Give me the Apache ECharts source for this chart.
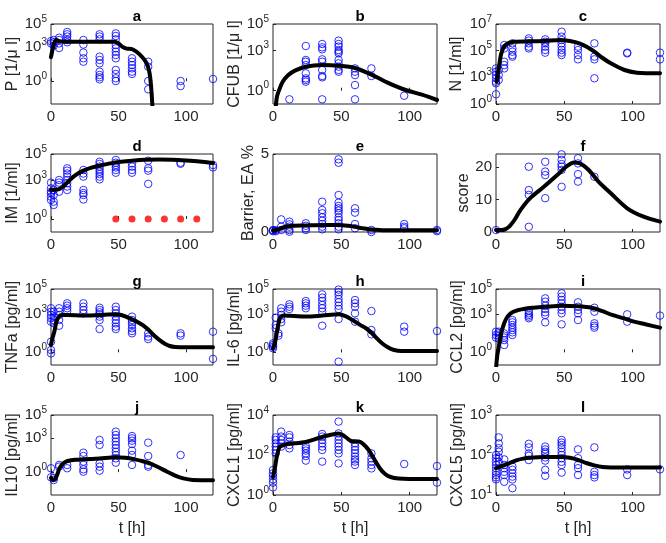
<!DOCTYPE html>
<html>
<head>
<meta charset="utf-8">
<script src="https://cdn.jsdelivr.net/npm/echarts@6/dist/echarts.min.js"></script>
<style>
  html, body { margin: 0; padding: 0; background: #fff; }
  #chart { width: 666px; height: 543px; }
</style>
</head>
<body>
<div id="chart"></div>
<script>
// log panels hold log10 readings, the axis labels show them as 10^n
// observations: [time, [values at that time]]
var aObs = [[0, [3.5, 3.3]], [2, [3.6, 3.4, 3.1]], [6, [3.8, 3.6, 3.3, 2.9]], [12, [4.3, 4.1, 3.9, 3.6, 3.4]], [24, [3.6, 3.2, 2.5, 2.0, 1.7]], [36, [4.1, 3.9, 3.66, 2.14, 1.85, 1.56, 0.83, 0.54, 0.34, 0.16]], [48, [4.18, 3.95, 3.66, 3.16, 2.87, 2.58, 2.29, 2.0, 0.98, 0.63, 0.25, 0.01]], [60, [2.0, 1.7, 1.41, 1.12, 0.83, 0.63]], [72, [1.7, 1.26, 0.01, -0.71]], [96, [0.01, -0.43]], [120, [0.19]]]
var aFitT = [0, 1, 2, 3, 4, 6, 10, 20, 30, 40, 47, 50, 53, 56, 60, 63, 66, 69, 71, 72.5, 73.5, 74.5, 75.5]
var aFitV = [2.1, 2.7, 3.2, 3.5, 3.6, 3.5, 3.45, 3.45, 3.45, 3.45, 3.45, 3.3, 3.0, 2.85, 2.8, 2.6, 2.3, 1.9, 1.5, 1.0, 0.3, -1, -3]

var bObs = [[12, [-0.65]], [24, [3.35, 2.3, 2.17, 1.92, 1.3, 0.92, 0.8, 0.67]], [36, [3.5, 3.25, 3.1, 2.35, 2.17, 1.55, 1.1, 1.0, -0.65]], [48, [3.75, 3.5, 3.3, 3.05, 2.92, 2.8, 2.3, 2.05, 1.8, 1.55, 1.42]], [60, [1.67, 1.42, 1.17, 0.42, -0.65]], [72, [1.67, 1.1]], [96, [-0.38]]]
var bFitT = [2, 3, 4.5, 7, 11, 16, 24, 36, 48, 60, 72, 85, 97, 109, 120]
var bFitV = [-1.2, -0.4, 0.05, 0.65, 1.15, 1.5, 1.8, 1.92, 1.87, 1.7, 1.2, 0.55, 0.05, -0.3, -0.7]

var cObs = [[0, [3.67, 3.42, 3.17, 2.93, 2.67, 2.55, 1.73]], [2, [3.55, 3.17, 2.8]], [6, [5.42, 5.17, 4.17, 3.92, 3.67]], [12, [5.55, 5.17, 4.92, 4.67, 4.55]], [24, [5.92, 5.75, 5.55, 5.3, 5.17]], [36, [5.85, 5.67, 5.55, 5.3, 5.05, 4.85]], [48, [6.42, 6.05, 5.8, 5.55, 5.3, 5.05, 4.85, 4.67]], [60, [5.3, 5.05, 4.67, 4.35]], [72, [5.55, 4.55, 4.35, 2.93]], [96, [4.85, 4.8]], [120, [4.85, 4.35]]]
var cFitT = [0.5, 2.2, 3.9, 7, 13, 24, 35, 47, 54, 61, 67, 72, 78, 84, 94, 103, 120]
var cFitV = [2.67, 3.8, 4.8, 5.42, 5.67, 5.7, 5.72, 5.8, 5.72, 5.55, 5.25, 4.92, 4.45, 4.05, 3.55, 3.35, 3.3]

var dObs = [[0, [2.8, 2.36, 2.1, 1.97, 1.72, 1.46]], [2, [2.23, 1.85, 1.33, 1.08]], [6, [3.0, 2.8, 2.6, 2.1]], [12, [3.9, 3.72, 3.5, 3.26, 3.0, 2.75, 2.5, 2.23]], [24, [3.77, 3.5, 3.26, 2.23, 2.0, 1.85, 1.5]], [36, [4.4, 4.23, 4.03, 3.82, 3.64, 3.46, 3.26, 3.05]], [48, [4.54, 4.33, 4.15, 3.97, 3.77, 3.56]], [60, [4.28, 4.03, 3.77, 3.56]], [72, [4.48, 3.9, 3.72, 2.7]], [96, [4.33, 4.25]], [120, [4.15, 3.97]]]
var dFitT = [0, 3, 6, 9, 12, 16, 20, 24, 30, 36, 44, 52, 60, 70, 80, 90, 100, 110, 120]
var dFitV = [2.25, 2.25, 2.3, 2.5, 2.8, 3.2, 3.5, 3.72, 3.95, 4.1, 4.28, 4.4, 4.48, 4.55, 4.58, 4.56, 4.5, 4.42, 4.3]
var dMarkT = [48, 60, 72, 84, 96, 108]
var dMarkV = [0, 0, 0, 0, 0, 0]

var eObs = [[0, [0.12, 0.1, 0.05]], [2, [0.12, 0.05]], [6, [0.81, 0.34, 0.13]], [12, [0.66, 0.49, 0.34, 0.13, 0.02]], [24, [0.56, 0.4, 0.24, 0.13]], [36, [1.94, 1.41, 1.2, 0.94, 0.72, 0.51, 0.34, 0.17]], [48, [4.66, 4.44, 2.37, 1.88, 1.67, 1.52, 1.37, 1.2, 0.94, 0.77, 0.56, 0.34, 0.17]], [60, [1.52, 1.24, 0.51, 0.24]], [72, [0.13, 0.0]], [96, [0.51, 0.34, 0.24]], [120, [0.13, 0.05]]]
var eFitT = [0, 3, 6, 10, 15, 24, 36, 48, 55, 60, 65, 70, 75, 80, 100, 120]
var eFitV = [0.1, 0.15, 0.25, 0.35, 0.4, 0.42, 0.45, 0.45, 0.4, 0.33, 0.25, 0.18, 0.14, 0.12, 0.12, 0.12]

var fObs = [[0, [0.6]], [24, [20.1, 12.9, 11.4, 1.6]], [36, [21.6, 18.6, 17.5, 10.4]], [48, [23.9, 22.2, 20.9, 20.1, 19.1, 13.9]], [60, [22.7, 21.1, 17.8, 15.5]], [72, [17]]]
var fFitT = [0, 4, 7, 10, 14, 18, 25, 35, 45, 52, 57, 62, 68, 75, 84, 96, 108, 120]
var fFitV = [0.6, 0.6, 0.9, 1.8, 4, 6.8, 10.4, 13.9, 17.6, 20.3, 21.4, 21, 19, 15.5, 11.9, 7.3, 4.7, 3.2]

var gObs = [[0, [3.48, 3.21, 2.95, 2.69, 2.42, 0.84, 0.18, -0.08]], [2, [3.21, 2.82, 2.55, 2.3]], [6, [3.48, 3.21, 2.95, 2.55, 2.1]], [12, [3.87, 3.68, 3.48, 3.26]], [24, [3.87, 3.6, 3.34, 3.08]], [36, [3.52, 3.34, 3.16, 3.0, 2.82, 2.55, 1.84]], [48, [3.6, 3.34, 3.08, 2.82, 2.55, 2.29, 2.03, 1.84]], [60, [2.82, 2.55, 2.37, 2.16, 1.9, 1.68, 1.5]], [72, [1.5, 1.24, 1.05]], [96, [1.5, 1.32]], [120, [1.63, -0.52]]]
var gFitT = [0, 1, 2.5, 4, 6, 8, 12, 24, 36, 48, 52, 56, 60, 64, 68, 72, 76, 80, 84, 88, 92, 100, 120]
var gFitV = [0.6, 1.1, 1.65, 2.4, 2.85, 2.95, 2.95, 2.9, 2.95, 3.0, 2.95, 2.8, 2.6, 2.4, 2.15, 1.8, 1.37, 1.0, 0.7, 0.5, 0.42, 0.4, 0.4]

var hObs = [[0, [0.71, 0.58, 0.45, 0.32]], [2, [2.74, 2.16, 1.9]], [4, [1.5, 1.32]], [6, [3.48, 3.21, 2.95, 2.63, 2.37]], [12, [3.79, 3.6, 3.42]], [24, [4.05, 3.87, 3.68, 3.48]], [36, [4.58, 4.32, 4.05, 3.74, 3.48, 3.21, 2.1]], [48, [4.95, 4.75, 4.53, 4.21, 3.95, 3.68, 3.42, 2.63, -0.74]], [60, [4.13, 3.87, 3.6, 3.08, 2.42]], [72, [3.26, 1.76, 1.42]], [96, [2.03, 1.63]], [120, [1.68]]]
var hFitT = [0, 1, 2, 3, 4.5, 6, 9, 12, 24, 36, 48, 52, 56, 60, 64, 68, 72, 76, 80, 84, 88, 94, 120]
var hFitV = [0.3, 0.6, 1.05, 1.7, 2.5, 2.85, 2.9, 2.88, 2.82, 2.9, 3.0, 2.9, 2.7, 2.42, 2.15, 1.9, 1.55, 1.1, 0.7, 0.4, 0.2, 0.1, 0.1]

var iObs = [[0, [1.63, 1.37, 1.16]], [2, [1.63, 1.5, 1.3, 1.08]], [6, [1.5, 1.32, 1.16, 0.97, 0.58]], [12, [2.55, 2.37, 2.16, 1.95, 1.76, 1.58, 1.37]], [24, [3.26, 3.08, 2.95, 2.82, 2.69]], [36, [4.26, 4.0, 3.68, 3.42, 3.16, 2.95, 2.37]], [48, [4.66, 4.4, 4.13, 3.87, 3.6, 3.34, 3.08, 2.21]], [60, [3.95, 3.6, 3.34, 3.08, 2.55]], [72, [3.52, 3.21, 2.29, 2.1, 1.95]], [96, [3.0, 2.42]], [120, [2.9]]]
var iFitT = [0, 1, 2, 3, 4, 6, 8, 11, 15, 20, 26, 36, 48, 60, 70, 78, 85, 93, 101, 110, 120]
var iFitV = [-1.3, -0.2, 0.4, 1.1, 1.6, 2.3, 2.75, 3.1, 3.3, 3.42, 3.52, 3.6, 3.68, 3.64, 3.52, 3.25, 2.95, 2.7, 2.42, 2.2, 1.95]

var jObs = [[0, [0.34, -0.45]], [2, [-0.69, -0.5]], [6, [0.63, 0.48]], [12, [0.63, 0.34]], [24, [1.7, 1.41, 0.92, 0.63, 0.25, 0.04]], [36, [2.81, 2.38, 0.77, 0.48, 0.13]], [48, [3.54, 3.25, 2.96, 2.67, 2.38, 2.09, 1.79, 1.5, 1.21, 0.83]], [60, [3.16, 2.96, 2.75, 2.46, 1.88, 1.5, 0.63]], [72, [2.58, 1.41, 0.63, 0.48]], [96, [1.5]]]
var jFitT = [0, 1.5, 3, 4.5, 6, 8, 10, 13, 18, 24, 36, 48, 55, 62, 68, 74, 80, 86, 92, 98, 105, 120]
var jFitV = [-0.5, -0.7, -0.6, -0.25, 0.25, 0.65, 0.85, 1.0, 1.08, 1.12, 1.2, 1.3, 1.25, 1.12, 0.95, 0.72, 0.4, 0.04, -0.3, -0.55, -0.68, -0.7]

var kObs = [[0, [1.25, 1.08, 0.95, 0.78, 0.62, 0.38]], [2, [2.88, 2.75, 2.58, 2.42, 2.25, 2.08]], [6, [3.17, 2.92, 2.75, 2.58, 2.42]], [12, [3.0, 2.88, 2.67, 2.5, 2.33]], [24, [2.45, 2.33, 2.22, 2.08, 1.95, 1.72]], [36, [3.05, 2.92, 2.75, 2.58, 2.42, 2.25, 1.67]], [48, [3.67, 3.08, 2.92, 2.75, 2.58, 2.42, 2.25, 2.08, 1.58]], [60, [2.58, 2.42, 2.25, 2.08, 1.92, 1.78, 1.67, 1.5]], [72, [2.08, 1.83, 1.67, 1.5, 1.33]], [96, [1.55]], [120, [1.45, 0.62]]]
var kFitT = [0, 1.5, 3, 4.5, 6, 9, 12, 24, 36, 48, 51, 54, 57, 60, 63, 66, 70, 74, 78, 82, 86, 92, 100, 120]
var kFitV = [0.9, 1.4, 2.0, 2.35, 2.45, 2.52, 2.56, 2.65, 2.9, 3.08, 3.0, 2.85, 2.7, 2.68, 2.68, 2.55, 2.25, 1.8, 1.35, 1.05, 0.9, 0.82, 0.8, 0.8]

var lObs = [[0, [2.0, 1.92, 1.83, 1.75, 1.67, 1.58, 1.5, 1.44, 1.39]], [2, [2.44, 2.29, 2.17, 2.08, 1.94, 1.83]], [6, [1.89, 1.75, 1.67, 1.58, 1.5, 1.33]], [12, [1.71, 1.63, 1.54, 1.46, 1.39, 1.17]], [24, [2.28, 2.19, 2.04, 1.98, 1.875]], [36, [2.21, 2.14, 2.08, 2.03, 1.94, 1.86, 1.63, 1.48]], [48, [2.375, 2.31, 2.25, 2.17, 2.08, 2.0, 1.92, 1.83, 1.75, 1.56]], [60, [2.14, 1.92, 1.75, 1.67, 1.5]], [72, [2.19, 1.58, 1.5, 1.44]], [96, [1.64, 1.5]], [120, [1.64]]]
var lFitT = [0, 4, 8, 12, 16, 20, 24, 36, 48, 54, 60, 66, 72, 78, 84, 100, 120]
var lFitV = [1.67, 1.72, 1.77, 1.83, 1.88, 1.91, 1.93, 1.95, 1.95, 1.93, 1.88, 1.8, 1.74, 1.7, 1.69, 1.69, 1.69]

var xTicks = [0, 50, 100]

// panel list: title, y name, y range, y ticks and their labels
var panels = [
  { title: 'a', name: 'P [1/\u03bc l]', log: true, min: -2, max: 5, ticks: [0, 3, 5], labels: ['0', '3', '5'], obs: aObs, fitT: aFitT, fitV: aFitV, gap: 29 },
  { title: 'b', name: 'CFUB [1/\u03bc l]', log: true, min: -1, max: 5, ticks: [0, 3, 5], labels: ['0', '3', '5'], obs: bObs, fitT: bFitT, fitV: bFitV, gap: 30 },
  { title: 'c', name: 'N [1/ml]', log: true, min: 1, max: 7, ticks: [1, 3, 5, 7], labels: ['0', '3', '5', '7'], obs: cObs, fitT: cFitT, fitV: cFitV, gap: 31 },
  { title: 'd', name: 'IM [1/ml]', log: true, min: -1, max: 5, ticks: [0, 3, 5], labels: ['0', '3', '5'], obs: dObs, fitT: dFitT, fitV: dFitV, gap: 30 },
  { title: 'e', name: 'Barrier, EA %', log: false, min: 0, max: 5, ticks: [0, 5], labels: ['0', '5'], obs: eObs, fitT: eFitT, fitV: eFitV, gap: 15 },
  { title: 'f', name: 'score', log: false, min: 0, max: 24, ticks: [0, 10, 20], labels: ['0', '10', '20'], obs: fObs, fitT: fFitT, fitV: fFitV, gap: 22 },
  { title: 'g', name: 'TNFa [pg/ml]', log: true, min: -1, max: 5, ticks: [0, 3, 5], labels: ['0', '3', '5'], obs: gObs, fitT: gFitT, fitV: gFitV, gap: 29 },
  { title: 'h', name: 'IL-6 [pg/ml]', log: true, min: -1, max: 5, ticks: [0, 3, 5], labels: ['0', '3', '5'], obs: hObs, fitT: hFitT, fitV: hFitV, gap: 29 },
  { title: 'i', name: 'CCL2 [pg/ml]', log: true, min: -1, max: 5, ticks: [0, 3, 5], labels: ['0', '3', '5'], obs: iObs, fitT: iFitT, fitV: iFitV, gap: 29 },
  { title: 'j', name: 'IL10 [pg/ml]', log: true, min: -2, max: 5, ticks: [0, 3, 5], labels: ['0', '3', '5'], obs: jObs, fitT: jFitT, fitV: jFitV, gap: 29 },
  { title: 'k', name: 'CXCL1 [pg/ml]', log: true, min: 0, max: 4, ticks: [0, 2, 4], labels: ['0', '2', '4'], obs: kObs, fitT: kFitT, fitV: kFitV, gap: 30 },
  { title: 'l', name: 'CXCL5 [pg/ml]', log: true, min: 1, max: 3, ticks: [1, 2, 3], labels: ['1', '2', '3'], obs: lObs, fitT: lFitT, fitV: lFitV, gap: 30 }
]

var cols = [{ left: 51, width: 162 }, { left: 273, width: 164 }, { left: 496, width: 164 }]
var rows = [{ top: 24, height: 80 }, { top: 154, height: 78 }, { top: 289, height: 76 }, { top: 415, height: 80 }]

var font = 'Liberation Sans, Arial, Helvetica, sans-serif'
var ink = '#262626'

function flatObs (obs) {
  var out = []
  for (var i = 0; i < obs.length; i++) {
    for (var j = 0; j < obs[i][1].length; j++) {
      out.push([obs[i][0], obs[i][1][j]])
    }
  }
  return out
}

function pairs (xs, ys) {
  return xs.map(function (x, k) { return [x, ys[k]] })
}

var grids = []
var xAxes = []
var yAxes = []
var titles = []
var series = []

panels.forEach(function (p, i) {
  var c = cols[i % 3]
  var r = rows[Math.floor(i / 3)]
  grids.push({
    left: c.left, top: r.top, width: c.width, height: r.height,
    show: true, borderColor: ink, borderWidth: 1, backgroundColor: '#fff'
  })
  titles.push({
    text: p.title, left: c.left + c.width / 2, top: r.top - 20, textAlign: 'center',
    textStyle: { fontFamily: font, fontSize: 15, fontWeight: 'bold', color: '#000' }
  })
  var bottomRow = Math.floor(i / 3) === 3
  xAxes.push({
    gridIndex: i, type: 'value', min: 0, max: 120,
    name: bottomRow ? 't [h]' : '', nameLocation: 'middle', nameGap: 26,
    nameTextStyle: { fontFamily: font, fontSize: 16, color: ink },
    axisLine: { show: false },
    axisTick: { inside: true, length: 3, customValues: xTicks, lineStyle: { color: ink } },
    axisLabel: { customValues: xTicks, margin: 5, fontFamily: font, fontSize: 15, color: ink },
    splitLine: { show: false }
  })
  yAxes.push({
    gridIndex: i, type: 'value', min: p.min, max: p.max,
    name: p.name, nameLocation: 'middle', nameGap: p.gap, nameRotate: 90,
    nameTextStyle: { fontFamily: font, fontSize: 16, color: ink },
    axisLine: { show: false },
    axisTick: { inside: true, length: 3, customValues: p.ticks, lineStyle: { color: ink } },
    axisLabel: {
      customValues: p.ticks, margin: 4, fontFamily: font, fontSize: 15, color: ink,
      formatter: function (v) {
        var k = p.ticks.indexOf(v)
        var lab = k >= 0 ? p.labels[k] : ''
        return p.log ? '10{sup|' + lab + '}' : lab
      },
      rich: { sup: { fontFamily: font, fontSize: 10, color: ink, padding: [0, 0, 10, 0] } }
    },
    splitLine: { show: false }
  })
  series.push({
    type: 'scatter', xAxisIndex: i, yAxisIndex: i, data: flatObs(p.obs),
    symbol: 'circle', symbolSize: 7.5,
    itemStyle: { color: 'rgba(0,0,0,0)', borderColor: '#0000ff', borderWidth: 1 },
    clip: true
  })
  series.push({
    type: 'line', xAxisIndex: i, yAxisIndex: i, data: pairs(p.fitT, p.fitV),
    showSymbol: false, smooth: 0.3,
    lineStyle: { color: '#000', width: 4, join: 'round', cap: 'round' }, clip: true
  })
})

// red markers in panel d
series.push({
  type: 'scatter', xAxisIndex: 3, yAxisIndex: 3, data: pairs(dMarkT, dMarkV),
  symbol: 'circle', symbolSize: 7, itemStyle: { color: '#ff0000' }
})

var chart = echarts.init(document.getElementById('chart'))
chart.setOption({
  animation: false,
  backgroundColor: '#fff',
  title: titles,
  grid: grids,
  xAxis: xAxes,
  yAxis: yAxes,
  series: series
})
</script>
</body>
</html>
